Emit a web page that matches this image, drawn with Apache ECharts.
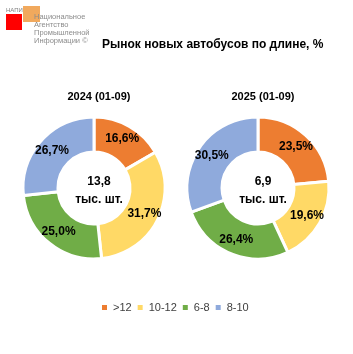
<!DOCTYPE html>
<html>
<head>
<meta charset="utf-8">
<script src="https://cdn.jsdelivr.net/npm/echarts@6/dist/echarts.min.js"></script>
<style>
  html, body { margin: 0; padding: 0; background: #fff; }
  #chart { width: 353px; height: 354px; }
</style>
</head>
<body>
<div id="chart"></div>
<script>
var categories = [">12", "10-12", "6-8", "8-10"];
var colors = ["#ED7D31", "#FFD966", "#70AD47", "#8FAADC"];
var values2024 = [16.6, 31.7, 25.0, 26.7];
var values2025 = [23.5, 19.6, 26.4, 30.5];
var periods = ["2024 (01-09)", "2025 (01-09)"];
var totals = ["13,8", "6,9"];

var myChart = echarts.init(document.getElementById("chart"));

function makePie(vals, cx) {
  return {
    type: "pie",
    center: [cx, 188],
    radius: [36, 71],
    startAngle: 90,
    clockwise: true,
    silent: true,
    itemStyle: {
      borderColor: "#fff",
      borderWidth: 3
    },
    label: {
      show: true,
      position: "inside",
      color: "#000",
      fontSize: 12,
      fontWeight: "bold",
      fontFamily: "Liberation Sans",
      formatter: function (p) {
        return p.value.toFixed(1).replace(".", ",") + "%";
      }
    },
    labelLine: { show: false },
    data: vals.map(function (v, i) {
      return { name: categories[i], value: v, itemStyle: { color: colors[i] } };
    })
  };
}

var font = "Liberation Sans";

var option = {
  animation: false,
  color: colors,
  title: [
    {
      text: "Рынок новых автобусов по длине, %",
      left: 97, top: 34,
      textStyle: { fontSize: 12, fontWeight: "bold", color: "#000", fontFamily: font }
    },
    {
      text: periods[0], left: 94, top: 86, textAlign: "center",
      textStyle: { fontSize: 11, fontWeight: "bold", color: "#000", fontFamily: font }
    },
    {
      text: periods[1], left: 258, top: 86, textAlign: "center",
      textStyle: { fontSize: 11, fontWeight: "bold", color: "#000", fontFamily: font }
    },
    {
      text: totals[0] + "\nтыс. шт.", left: 94, top: 168, textAlign: "center",
      textStyle: { fontSize: 12, fontWeight: "bold", color: "#000", fontFamily: font, lineHeight: 18 }
    },
    {
      text: totals[1] + "\nтыс. шт.", left: 258, top: 168, textAlign: "center",
      textStyle: { fontSize: 12, fontWeight: "bold", color: "#000", fontFamily: font, lineHeight: 18 }
    }
  ],
  legend: {
    data: categories,
    left: 100,
    top: 302,
    padding: 0,
    itemWidth: 7,
    itemHeight: 7,
    itemGap: 4,
    icon: "rect",
    textStyle: { fontSize: 11, color: "#404040", fontFamily: font }
  },
  graphic: [
    { type: "rect", shape: { x: 6, y: 14, width: 16, height: 16 }, style: { fill: "#FF0000" } },
    { type: "rect", shape: { x: 23, y: 6, width: 17, height: 16 }, style: { fill: "#F0A04B", opacity: 0.9 } },
    { type: "text", left: 6, top: 7, style: { text: "НАПИ", fontSize: 6, fill: "#7f7f7f", fontFamily: font } },
    {
      type: "text", left: 34, top: 13,
      style: {
        text: "Национальное\nАгентство\nПромышленной\nИнформации ©",
        fontSize: 7.5, lineHeight: 8, fill: "#8c8c8c", fontFamily: font
      }
    }
  ],
  series: [
    makePie(values2024, 94),
    makePie(values2025, 258)
  ]
};

myChart.setOption(option);
</script>
</body>
</html>
